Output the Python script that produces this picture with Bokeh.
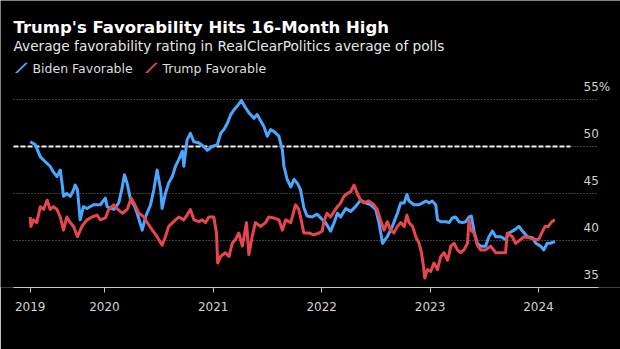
from datetime import datetime, timedelta
import pandas as pd
from bokeh.plotting import figure
from bokeh.models import (Range1d, FixedTicker, DatetimeTickFormatter, Label,
                          PolyAnnotation, ColumnDataSource)
from bokeh.core.properties import value
from bokeh.embed import file_html
from bokeh.resources import INLINE

# ---------------- data ----------------
biden_dates = [
    "2019-04-26", "2019-05-13", "2019-05-30", "2019-06-15", "2019-07-02", "2019-07-13",
    "2019-07-25", "2019-08-05", "2019-08-11", "2019-08-16", "2019-08-27", "2019-09-08",
    "2019-09-19", "2019-09-24", "2019-10-02", "2019-10-11", "2019-10-22", "2019-11-03",
    "2019-11-25", "2019-12-18", "2020-01-04", "2020-01-10", "2020-02-01", "2020-02-18",
    "2020-03-01", "2020-03-08", "2020-03-17", "2020-03-29", "2020-04-09", "2020-04-20",
    "2020-05-07", "2020-05-18", "2020-06-04", "2020-06-15", "2020-06-26", "2020-07-08",
    "2020-07-13", "2020-07-24", "2020-08-04", "2020-08-16", "2020-08-27", "2020-09-07",
    "2020-09-19", "2020-09-24", "2020-10-05", "2020-10-16", "2020-10-28", "2020-11-13",
    "2020-11-30", "2020-12-12", "2020-12-28", "2021-01-15", "2021-01-26", "2021-02-06",
    "2021-02-18", "2021-03-01", "2021-03-12", "2021-03-23", "2021-04-06", "2021-04-20",
    "2021-05-01", "2021-05-18", "2021-05-29", "2021-06-10", "2021-06-21", "2021-07-02",
    "2021-07-13", "2021-07-24", "2021-08-10", "2021-08-22", "2021-08-27", "2021-09-07",
    "2021-09-19", "2021-09-30", "2021-10-11", "2021-10-22", "2021-11-02", "2021-11-13",
    "2021-11-30", "2021-12-17", "2022-01-01", "2022-01-14", "2022-01-31", "2022-02-12",
    "2022-02-23", "2022-03-06", "2022-03-23", "2022-04-09", "2022-04-25", "2022-05-12",
    "2022-05-29", "2022-06-15", "2022-07-02", "2022-07-13", "2022-07-25", "2022-08-10",
    "2022-08-27", "2022-09-13", "2022-09-24", "2022-10-06", "2022-10-15", "2022-10-22",
    "2022-11-08", "2022-11-25", "2022-12-07", "2022-12-18", "2022-12-29", "2023-01-08",
    "2023-01-20", "2023-01-26", "2023-02-06", "2023-02-23", "2023-03-06", "2023-03-17",
    "2023-03-28", "2023-04-08", "2023-04-20", "2023-05-01", "2023-05-12", "2023-05-20",
    "2023-05-29", "2023-06-09", "2023-06-20", "2023-07-07", "2023-07-18", "2023-07-30",
    "2023-08-10", "2023-08-27", "2023-09-12", "2023-09-24", "2023-10-11", "2023-10-27",
    "2023-11-08", "2023-11-25", "2023-12-12", "2023-12-23", "2024-01-08", "2024-01-19",
    "2024-01-30", "2024-02-10", "2024-02-25",
]
biden_values = [
    50.5, 50.2, 48.9, 48.4, 47.9, 47.3,
    46.8, 47.5, 46.1, 44.7, 45.0, 44.7,
    45.4, 45.9, 45.4, 42.2, 43.6, 43.4,
    43.8, 43.8, 44.5, 43.6, 43.3, 44.0,
    45.7, 47.0, 46.1, 44.3, 43.8, 42.9,
    41.1, 42.5, 43.8, 45.4, 47.5, 45.4,
    43.4, 45.0, 46.1, 46.8, 47.9, 48.6,
    49.5, 47.9, 50.7, 51.4, 50.5, 50.4,
    50.0, 49.6, 50.0, 50.2, 51.4, 51.8,
    52.5, 53.4, 53.9, 54.3, 54.9, 54.1,
    53.6, 53.0, 53.4, 52.7, 52.1, 51.1,
    51.8, 51.6, 51.1, 49.6, 47.9, 46.5,
    45.7, 46.5, 46.1, 45.4, 43.5, 42.6,
    42.5, 42.8, 42.3, 41.9, 41.0, 41.9,
    42.9, 42.5, 43.4, 43.1, 43.6, 44.3,
    44.0, 43.8, 43.3, 41.9, 39.7, 40.4,
    41.5, 42.9, 44.0, 44.0, 44.9, 44.2,
    43.8, 43.8, 44.0, 44.2, 44.0, 44.2,
    43.8, 42.2, 42.0, 42.0, 41.9, 42.4,
    42.5, 42.0, 41.9, 42.0, 42.5, 42.6,
    41.0, 39.7, 39.4, 39.4, 40.4, 41.0,
    40.4, 40.4, 40.1, 40.8, 41.1, 41.5,
    41.0, 40.4, 40.3, 39.7, 39.4, 39.0,
    39.7, 39.7, 39.9,
]

trump_dates = [
    "2019-04-26", "2019-04-28", "2019-05-07", "2019-05-18", "2019-05-30", "2019-06-10",
    "2019-06-22", "2019-07-02", "2019-07-13", "2019-07-25", "2019-08-05", "2019-08-16",
    "2019-08-27", "2019-09-08", "2019-09-19", "2019-10-02", "2019-10-17", "2019-11-03",
    "2019-11-20", "2019-12-07", "2019-12-18", "2020-01-04", "2020-01-15", "2020-02-01",
    "2020-02-12", "2020-03-01", "2020-03-17", "2020-03-31", "2020-04-09", "2020-04-26",
    "2020-05-13", "2020-05-24", "2020-06-10", "2020-06-26", "2020-07-13", "2020-07-24",
    "2020-08-04", "2020-08-21", "2020-09-07", "2020-09-24", "2020-10-05", "2020-10-16",
    "2020-10-28", "2020-11-13", "2020-11-25", "2020-12-06", "2020-12-17", "2021-01-03",
    "2021-01-12", "2021-01-16", "2021-01-26", "2021-02-11", "2021-02-23", "2021-03-06",
    "2021-03-17", "2021-03-28", "2021-04-09", "2021-04-23", "2021-05-01", "2021-05-12",
    "2021-05-23", "2021-06-10", "2021-06-26", "2021-07-07", "2021-07-24", "2021-08-10",
    "2021-08-22", "2021-09-02", "2021-09-19", "2021-10-05", "2021-10-16", "2021-10-22",
    "2021-11-02", "2021-11-19", "2021-12-06", "2021-12-23", "2022-01-03", "2022-01-08",
    "2022-01-19", "2022-01-31", "2022-02-12", "2022-02-23", "2022-03-06", "2022-03-17",
    "2022-03-28", "2022-04-09", "2022-04-20", "2022-05-01", "2022-05-12", "2022-05-23",
    "2022-06-09", "2022-06-26", "2022-07-07", "2022-07-18", "2022-07-30", "2022-08-10",
    "2022-08-21", "2022-09-01", "2022-09-13", "2022-09-24", "2022-10-06", "2022-10-15",
    "2022-10-22", "2022-11-03", "2022-11-14", "2022-11-25", "2022-12-03", "2022-12-10",
    "2022-12-14", "2022-12-23", "2023-01-03", "2023-01-14", "2023-01-26", "2023-02-06",
    "2023-02-17", "2023-03-01", "2023-03-12", "2023-03-23", "2023-04-03", "2023-04-14",
    "2023-04-25", "2023-05-07", "2023-05-12", "2023-05-18", "2023-05-29", "2023-06-09",
    "2023-06-20", "2023-07-07", "2023-07-24", "2023-08-10", "2023-08-27", "2023-09-12",
    "2023-09-18", "2023-10-05", "2023-10-16", "2023-11-02", "2023-11-13", "2023-11-30",
    "2023-12-17", "2024-01-01", "2024-01-12", "2024-01-23", "2024-02-03", "2024-02-15",
    "2024-02-25",
]
trump_values = [
    42.5, 41.5, 42.2, 41.9, 43.6, 43.3,
    44.3, 43.3, 43.6, 43.3, 42.5, 41.1,
    42.5, 41.9, 41.5, 40.4, 41.5, 42.2,
    42.5, 42.7, 42.2, 42.4, 43.3, 43.8,
    43.4, 42.9, 43.3, 44.5, 44.0, 42.9,
    42.5, 41.9, 41.1, 40.4, 39.5, 40.4,
    41.5, 42.0, 42.5, 42.2, 42.7, 43.3,
    42.2, 42.0, 42.2, 41.9, 42.5, 42.5,
    40.8, 37.6, 38.3, 38.7, 38.3, 39.7,
    40.1, 40.8, 39.4, 41.9, 38.5, 40.4,
    41.9, 41.5, 41.9, 42.5, 42.4, 42.2,
    41.1, 42.2, 41.9, 43.8, 43.3, 42.5,
    40.8, 40.8, 40.6, 40.8, 41.0, 42.0,
    42.9, 42.5, 43.1, 43.6, 44.0, 44.7,
    45.0, 45.2, 45.9, 45.0, 44.3, 44.0,
    44.2, 43.8, 43.3, 42.2, 41.1, 42.0,
    41.1, 40.8, 41.5, 41.9, 41.5, 42.7,
    41.9, 41.5, 40.4, 39.7, 38.7, 37.2,
    36.0, 36.9, 36.7, 37.6, 36.9, 38.3,
    38.7, 37.9, 39.4, 39.7, 39.0, 38.7,
    39.0, 39.7, 42.2, 41.1, 40.8, 39.5,
    39.0, 39.0, 39.4, 38.7, 38.7, 38.7,
    40.8, 40.4, 39.7, 40.1, 40.4, 40.3,
    40.1, 40.1, 40.8, 41.5, 41.5, 42.0,
    42.2,
]

tick_dates = ["2019-04-26", "2020-01-01", "2021-01-01", "2022-01-01", "2023-01-01", "2024-01-01"]
y_ticks = [35, 40, 45, 50, 55]
y_tick_labels = ["35", "40", "45", "50", "55%"]
reference_level = 50

# ---------------- styling / layout ----------------
BG = "#000000"
BLUE = "#4aa6ff"
RED = "#e8464f"
FONT = "DejaVu Sans"

W, H = 620, 349
FRAME_BOTTOM = 287  # canvas px of the frame bottom

origin = datetime(2020, 1, 1)
px_per_day = 108.5 / 365.25


def at_px(px):
    return origin + timedelta(days=(px - 104) / px_per_day)


x_start, x_end = at_px(0), at_px(W)
y_start = 35
y_end = 35 + FRAME_BOTTOM / 9.4

p = figure(width=W, height=H, x_axis_type="datetime", y_axis_location=None,
           x_range=Range1d(x_start, x_end), y_range=Range1d(y_start, y_end),
           output_backend="svg", toolbar_location=None,
           min_border_left=0, min_border_right=0, min_border_top=0,
           min_border_bottom=H - FRAME_BOTTOM)
p.background_fill_color = BG
p.border_fill_color = BG
p.outline_line_color = None
p.grid.grid_line_color = None

# grid lines (dotted) and the 50 reference (dashed)
g0, g1 = at_px(13), at_px(597)
grid_levels = [v for v in y_ticks if v > y_ticks[0]]
p.segment(x0=[g0] * len(grid_levels), x1=[g1] * len(grid_levels),
          y0=grid_levels, y1=grid_levels, line_color="#7a7a7a",
          line_width=1, line_dash="1 2")
p.segment(x0=[g0], x1=[at_px(570)], y0=[reference_level], y1=[reference_level],
          line_color="#f0f0f0", line_width=2, line_dash="5 2")

# series
bsrc = ColumnDataSource(dict(x=pd.to_datetime(biden_dates), y=biden_values))
tsrc = ColumnDataSource(dict(x=pd.to_datetime(trump_dates), y=trump_values))
p.line("x", "y", source=bsrc, line_color=BLUE, line_width=3, line_join="round")
p.line("x", "y", source=tsrc, line_color=RED, line_width=3, line_join="round")

# y labels (above their grid lines, at right)
p.text(x=[at_px(583)] * len(y_ticks), y=y_ticks, text=y_tick_labels,
       text_font=value(FONT), text_font_size="12px", text_color="#d0d0d0",
       text_align="left", text_baseline="middle", y_offset=-13)

# x axis
tick_ms = [float(pd.Timestamp(d).value // 10**6) for d in tick_dates]
ax = p.xaxis[0]
ax.ticker = FixedTicker(ticks=tick_ms)
fmt = "%Y"
ax.formatter = DatetimeTickFormatter(microseconds=fmt, milliseconds=fmt, seconds=fmt,
                                     minsec=fmt, minutes=fmt, hourmin=fmt, hours=fmt,
                                     days=fmt, months=fmt, years=fmt)
ax.bounds = (at_px(13), at_px(598))
ax.axis_line_color = "#c8c8c8"
ax.axis_line_width = 1
ax.major_tick_line_color = "#c8c8c8"
ax.major_tick_out = 5
ax.major_tick_in = 0
ax.minor_tick_line_color = None
ax.major_label_text_font = FONT
ax.major_label_text_font_size = "12px"
ax.major_label_text_color = "#d0d0d0"
ax.major_label_standoff = 9


# texts (screen units, relative to the frame's bottom-left)
def lab(text, x, y_canvas, size, color="#e0e0e0", bold=False, align="left", baseline="middle"):
    p.add_layout(Label(x=x, y=FRAME_BOTTOM - y_canvas, x_units="screen", y_units="screen",
                       text=text, text_font=FONT, text_font_size=size, text_color=color,
                       text_font_style="bold" if bold else "normal",
                       text_align=align, text_baseline=baseline))


lab("Trump's Favorability Hits 16-Month High", 13, 26.7, "16.5px", "#ffffff", True,
    baseline="alphabetic")
lab("Average favorability rating in RealClearPolitics average of polls", 13, 45, "13.7px",
    "#e6e6e6", baseline="alphabetic")
lab("Biden Favorable", 32, 67.7, "12.5px", "#dddddd")
lab("Trump Favorable", 162, 67.7, "12.5px", "#dddddd")
lab("Source: RealClearPolitics", 14, 338, "11.8px", "#d0d0d0")
lab("Bloomberg", 602, 337, "11.5px", "#ffffff", True, align="right")


def slash(x0, color):
    xs = [x0, x0 + 2.6, x0 + 13.0, x0 + 10.4]
    ys_canvas = [72.5, 72.5, 62.3, 62.3]
    p.add_layout(PolyAnnotation(xs=xs, ys=[FRAME_BOTTOM - y for y in ys_canvas],
                                xs_units="screen", ys_units="screen",
                                fill_color=color, fill_alpha=1, line_color=None))


slash(14.5, BLUE)
slash(144.5, RED)

open("out.html", "w").write(file_html(p, INLINE))
